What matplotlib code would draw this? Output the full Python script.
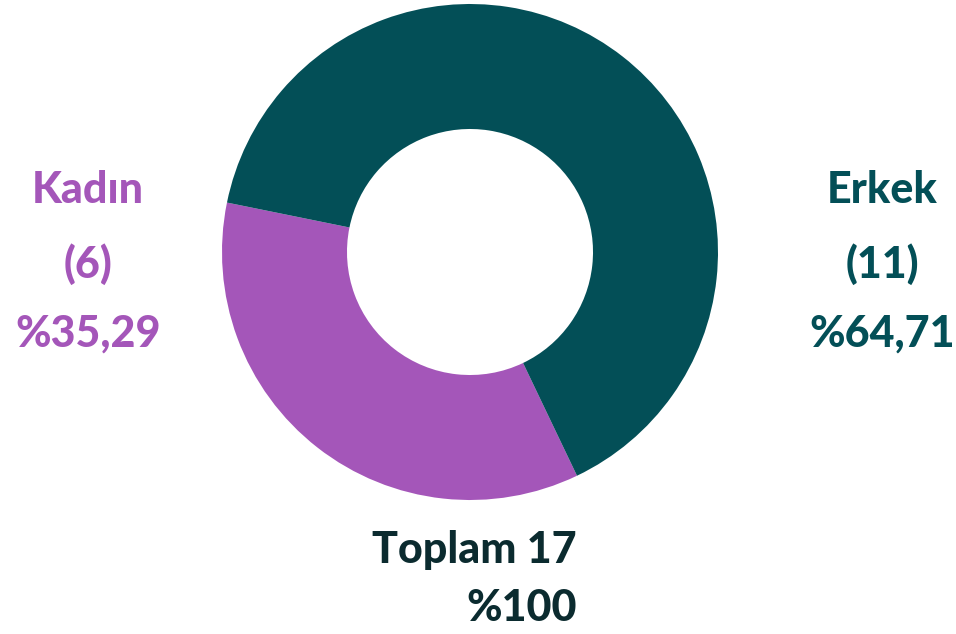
import matplotlib.pyplot as plt

labels = ['Kadın', 'Erkek']
counts = [6, 11]
percents = ['%35,29', '%64,71']
colors = ['#a456b9', '#034f57']
total_label = 'Toplam 17'
total_pct = '%100'

W, H = 956, 634
fig = plt.figure(figsize=(W / 100, H / 100), dpi=100)
plt.rcParams['font.family'] = ['Lato', 'DejaVu Sans']

cx, cy, r = 470, 252, 248
ax = fig.add_axes([(cx - r) / W, (H - cy - r) / H, 2 * r / W, 2 * r / H])
ax.pie(counts, colors=colors, startangle=168.5, counterclock=True,
       radius=1, wedgeprops=dict(width=0.504, linewidth=0))
ax.set_xlim(-1, 1)
ax.set_ylim(-1, 1)
ax.set_aspect('equal')
ax.axis('off')


def txt(x, y, s, color, ha='center'):
    fig.text(x / W, 1 - y / H, s, color=color, fontsize=31, fontweight=900,
             ha=ha, va='center')


# left / right labels
for xpos, lab, n, p, c in [(88, labels[0], counts[0], percents[0], colors[0]),
                           (882, labels[1], counts[1], percents[1], colors[1])]:
    txt(xpos, 190, lab, c)
    txt(xpos, 264, '(%d)' % n, c)
    txt(xpos, 334, p, c)

txt(577, 550, total_label, '#0b2b2f', ha='right')
txt(577, 608, total_pct, '#0b2b2f', ha='right')

fig.savefig('out.png', dpi=100)
